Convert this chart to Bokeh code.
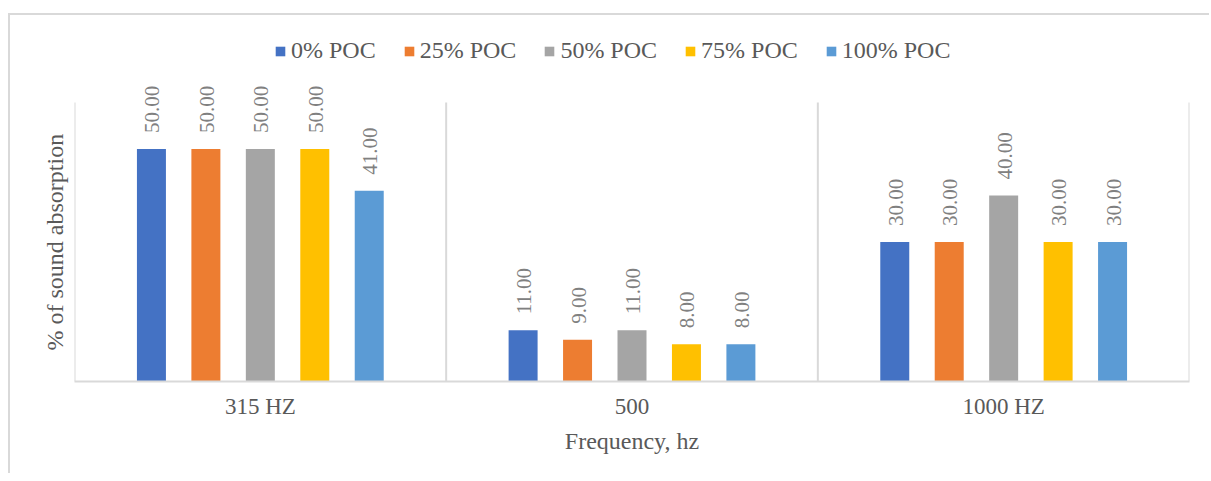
import math
from bokeh.plotting import figure
from bokeh.models import (FactorRange, Range1d, ColumnDataSource, Legend, LegendItem, Title)
from bokeh.transform import dodge
from bokeh.core.properties import value
from bokeh.embed import file_html
from bokeh.resources import INLINE

categories = ["315 HZ", "500", "1000 HZ"]
series_names = ["0% POC", "25% POC", "50% POC", "75% POC", "100% POC"]
poc_0 = [50.0, 11.0, 30.0]
poc_25 = [50.0, 9.0, 30.0]
poc_50 = [50.0, 11.0, 40.0]
poc_75 = [50.0, 8.0, 30.0]
poc_100 = [41.0, 8.0, 30.0]
series_values = [poc_0, poc_25, poc_50, poc_75, poc_100]
colors = ["#4472C4", "#ED7D31", "#A5A5A5", "#FFC000", "#5B9BD5"]
y_axis_max = 60
y_title = "% of sound absorption"
x_title = "Frequency, hz"

FONT = "Liberation Serif"
GRID = "#d9d9d9"

p = figure(x_range=FactorRange(*categories, range_padding=0), y_range=Range1d(0, 78.5),
           frame_width=1115, frame_height=365,
           min_border_left=64, min_border_top=1, min_border_bottom=92, min_border_right=20,
           output_backend="svg", toolbar_location=None)
p.outline_line_color = None
p.xgrid.grid_line_color = None
p.ygrid.grid_line_color = None
p.styles = {"margin-left": "8px", "margin-top": "13px",
            "border-left": "2px solid #d9d9d9", "border-top": "2px solid #d9d9d9"}

# category boundary lines
bx = [0, 1, 2, 3]
p.segment(x0=bx, y0=[0] * 4, x1=bx, y1=[y_axis_max] * 4, line_color=GRID, line_width=2)

step = 0.1465
bar_w = 0.078
items = []
for i, (name, vals, col) in enumerate(zip(series_names, series_values, colors)):
    off = (i - 2) * step
    src = ColumnDataSource(dict(cat=categories, val=vals,
                                lab=[f"{v:.2f}" for v in vals]))
    r = p.vbar(x=dodge("cat", off, range=p.x_range), top="val", width=bar_w, bottom=0,
               source=src, fill_color=col, line_color=None)
    p.text(x=dodge("cat", off, range=p.x_range), y="val", text="lab", source=src,
           angle=math.pi / 2, text_align="left", text_baseline="middle",
           y_offset=-16, x_offset=1, text_font=value(FONT), text_font_size="21px",
           text_color="#808080")
    items.append(LegendItem(label=name, renderers=[r]))

legend = Legend(items=items, orientation="horizontal", location=(200, 317),
                glyph_width=12, glyph_height=12, label_standoff=5, spacing=27,
                padding=0, margin=0, border_line_color=None, background_fill_alpha=0,
                label_text_font=FONT, label_text_font_size="24px", label_text_color="#595959")
p.add_layout(legend, "center")

p.xaxis.axis_label = x_title
p.xaxis.axis_label_text_font = FONT
p.xaxis.axis_label_text_font_style = "normal"
p.xaxis.axis_label_text_font_size = "24px"
p.xaxis.axis_label_text_color = "#595959"
p.xaxis.axis_label_standoff = 6
p.xaxis.major_label_text_font = FONT
p.xaxis.major_label_text_font_size = "23px"
p.xaxis.major_label_text_color = "#595959"
p.xaxis.major_label_standoff = 6
p.xaxis.axis_line_color = GRID
p.xaxis.axis_line_width = 2
p.xaxis.major_tick_line_color = None
p.xaxis.minor_tick_line_color = None

p.yaxis.visible = False
p.add_layout(Title(text=y_title, align="left", offset=31, standoff=14,
                   text_font=FONT, text_font_style="normal", text_font_size="24px",
                   text_color="#595959"), "left")

open("out.html", "w").write(file_html(p, INLINE))
